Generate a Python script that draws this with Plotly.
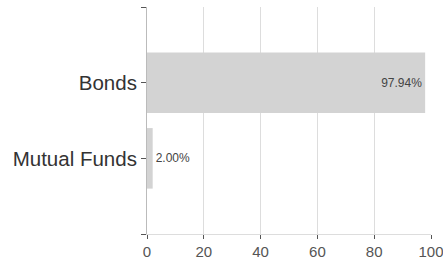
import plotly.graph_objects as go

categories = ["Bonds", "Mutual Funds"]
values = [97.94, 2.00]
labels = ["97.94%", "2.00%"]
positions = [2, 1]
x_ticks = [0, 20, 40, 60, 80, 100]

fig = go.Figure()
fig.add_trace(go.Bar(
    x=values, y=positions, orientation="h",
    marker=dict(color="#d3d3d3", line=dict(width=0)),
    width=0.8,
    text=labels, textposition="auto",
    insidetextanchor="end",
    textfont=dict(family="Liberation Sans, Arial", size=12, color="#444"),
    cliponaxis=False,
))
fig.update_layout(
    width=443, height=263,
    margin=dict(l=147, r=12, t=7, b=29, autoexpand=False),
    paper_bgcolor="white", plot_bgcolor="white",
    showlegend=False,
    font=dict(family="Liberation Sans, Arial"),
    xaxis=dict(range=[0, 100], tickvals=x_ticks, showgrid=True, gridcolor="#dddddd",
               gridwidth=1, zeroline=False, showline=True, linecolor="#dddddd",
               automargin=False, ticklabeloverflow="allow",
               ticks="outside", ticklen=4, tickcolor="#555", tickfont=dict(size=15, color="#555")),
    yaxis=dict(range=[0, 3], tickvals=[0, 1, 2, 3], ticktext=["", categories[1], categories[0], ""],
               showgrid=False, zeroline=False, showline=True, linecolor="#bbbbbb",
               automargin=False,
               ticks="outside", ticklen=5, tickcolor="#555", tickfont=dict(size=20.5, color="#333")),
)
fig.write_html("out.html", config={"displayModeBar": False},
               post_script="document.body.style.margin='0';document.body.style.overflow='hidden';")
